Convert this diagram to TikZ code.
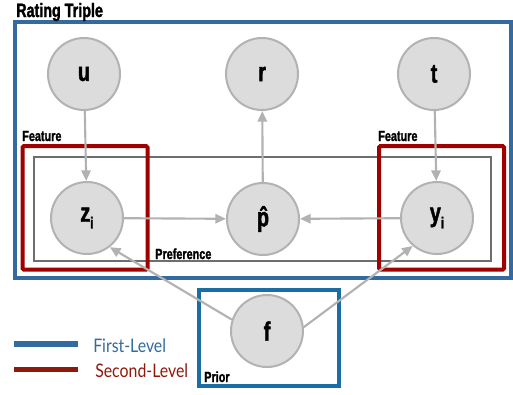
\documentclass[tikz,border=0pt]{standalone}
\usepackage{fontspec}
\usetikzlibrary{arrows.meta}
\newfontfamily\heavy{Liberation Sans Bold}[FakeStretch=0.74,FakeBold=1.6]
\newfontfamily\legfont{Lato}[FakeStretch=0.85]
\definecolor{firstblue}{HTML}{336A9F}
\definecolor{priorblue}{HTML}{1A6EA6}
\definecolor{secred}{HTML}{A00000}
\definecolor{legred}{HTML}{8E1A0C}
\definecolor{nodefill}{HTML}{DCDCDC}
\definecolor{nodeline}{HTML}{B2B2B2}
\definecolor{plategray}{HTML}{6E6E6E}
\tikzset{
  var/.style={circle, minimum size=54pt, inner sep=0pt, fill=nodefill, draw=nodeline, line width=1.5pt,
    font=\heavy\fontsize{20}{20}\selectfont},
  conn/.style={draw=nodeline, line width=1.6pt, -{Triangle[length=8pt,width=7pt]}},
  lbl/.style={anchor=base west, inner sep=0pt, font=\heavy\fontsize{11}{11}\selectfont},
  firstbox/.style={draw=firstblue, line width=3pt},
  priorbox/.style={draw=priorblue, line width=3pt},
  secbox/.style={draw=secred, line width=3pt, rounded corners=1pt},
  platebox/.style={draw=plategray, line width=1.5pt},
  legtext/.style={anchor=base west, inner sep=0pt, font=\legfont\fontsize{14}{14}\selectfont}
}
\begin{document}
\begin{tikzpicture}[x=0.75pt, y=-0.75pt]
\useasboundingbox (0,0) rectangle (513,394);
% boxes
\draw[firstbox] (14.5,21.5) rectangle (510.5,277.5);
\draw[platebox] (34,157) rectangle (491,261);
\draw[secbox] (22.5,146) rectangle (147.5,269.5);
\draw[secbox] (379,146) rectangle (504,269.5);
\draw[priorbox] (199,290) rectangle (339,386);
% labels
\node[anchor=base west, inner sep=0pt, font=\heavy\fontsize{14.5}{14.5}\selectfont] (title) at (16,17) {Rating Triple};
\node[lbl] (featL) at (22,141) {Feature};
\node[lbl] (featR) at (378,141) {Feature};
\node[lbl] (pref) at (155,259) {Preference};
\node[lbl] (prior) at (204,382) {Prior};
% nodes
\node[var] (u) at (84,74) {u};
\node[var] (r) at (262,74) {r};
\node[var] (t) at (434,74) {t};
\node[var] (z) at (87,218) {z\raisebox{-5pt}{\fontsize{12}{12}\selectfont i}};
\node[var] (p) at (263,219) {\^{p}};
\node[var] (y) at (437,218) {y\raisebox{-5pt}{\fontsize{12}{12}\selectfont i}};
\node[var] (f) at (267,331) {f};
% connectors
\draw[conn] (u) -- (z);
\draw[conn] (t) -- (y);
\draw[conn] (p) -- (r);
\draw[conn] (z) -- (p);
\draw[conn] (y) -- (p);
\draw[conn] (f.162) -- (z.-52);
\draw[conn] (f.6) -- (y.-131);
% legend
\coordinate (lb1) at (14,344);
\coordinate (lb2) at (78,344);
\coordinate (lr1) at (14,369.5);
\coordinate (lr2) at (78,369.5);
\draw[draw=firstblue, line width=4.5pt] (lb1) -- (lb2);
\draw[draw=legred, line width=4pt] (lr1) -- (lr2);
\node[legtext, text=firstblue] (first) at (93,352) {First-Level};
\node[legtext, text=legred] (second) at (95,377) {Second-Level};
\end{tikzpicture}
\end{document}
